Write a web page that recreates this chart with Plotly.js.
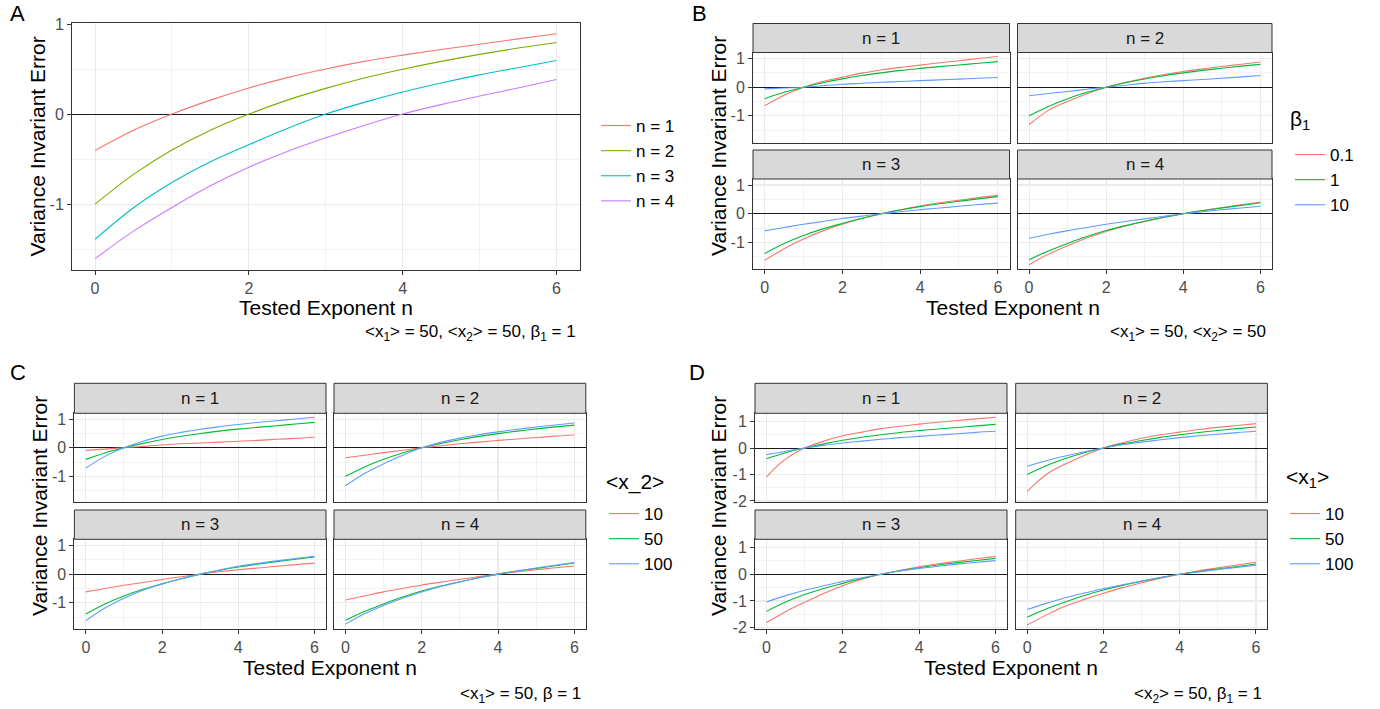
<!DOCTYPE html>
<html><head><meta charset="utf-8">
<script src="https://cdn.plot.ly/plotly-3.0.1.min.js"></script>
<style>html,body{margin:0;padding:0;background:#fff;} #chart{width:1380px;height:709px;}</style>
</head><body><div id="chart"></div>
<script>
// ---------- data ----------
const xs = [0, 0.5, 1, 1.5, 2, 2.5, 3, 3.5, 4, 4.5, 5, 5.5, 6];
const xsFine = [0, 0.25, 0.5, 0.75, 1, 1.5, 2, 2.5, 3, 3.5, 4, 4.5, 5, 5.5, 6];
const xTicks = [0, 2, 4, 6];
const yTicksABC = [-1, 0, 1];
const yTicksD = [-2, -1, 0, 1];
const facetLabels = ['n = 1', 'n = 2', 'n = 3', 'n = 4'];
const legendA = ['n = 1', 'n = 2', 'n = 3', 'n = 4'];
const legendB = ['0.1', '1', '10'];
const legendC = ['10', '50', '100'];
const legendD = ['10', '50', '100'];

// Panel A (<x1>=50, <x2>=50, beta1=1)
const A_n1 = [-0.405, -0.18, 0, 0.155, 0.29, 0.405, 0.50, 0.585, 0.655, 0.718, 0.776, 0.835, 0.892];
const A_n2 = [-1.0, -0.67, -0.40, -0.18, 0, 0.155, 0.285, 0.40, 0.498, 0.585, 0.663, 0.733, 0.795];
const A_n3 = [-1.39, -1.04, -0.76, -0.53, -0.34, -0.16, 0, 0.13, 0.245, 0.345, 0.435, 0.515, 0.595];
const A_n4 = [-1.606, -1.30, -1.037, -0.796, -0.59, -0.416, -0.264, -0.126, 0, 0.105, 0.2, 0.29, 0.383];

// Panel B (beta1 = 0.1, 1, 10)
const B_n1_01 = [-0.65, -0.28, 0, 0.2, 0.35, 0.49, 0.6, 0.69, 0.77, 0.85, 0.92, 1.0, 1.07];
const B_n1_1  = [-0.405, -0.18, 0, 0.155, 0.29, 0.405, 0.50, 0.585, 0.655, 0.718, 0.776, 0.835, 0.892];
const B_n1_10 = [-0.06, -0.03, 0, 0.05, 0.1, 0.135, 0.17, 0.2, 0.23, 0.255, 0.28, 0.31, 0.34];
const B_n2_01 = [-1.31, -0.81, -0.5, -0.23, 0, 0.17, 0.31, 0.44, 0.55, 0.64, 0.72, 0.8, 0.88];
const B_n2_1  = [-1.0, -0.67, -0.40, -0.18, 0, 0.155, 0.285, 0.40, 0.498, 0.585, 0.663, 0.733, 0.795];
const B_n2_10 = [-0.30, -0.22, -0.15, -0.07, 0, 0.07, 0.14, 0.19, 0.23, 0.27, 0.31, 0.36, 0.41];
const B_n3_01 = [-1.63, -1.22, -0.88, -0.6, -0.37, -0.17, 0, 0.14, 0.27, 0.38, 0.47, 0.56, 0.64];
const B_n3_1  = [-1.39, -1.04, -0.76, -0.53, -0.34, -0.16, 0, 0.13, 0.245, 0.345, 0.435, 0.515, 0.595];
const B_n3_10 = [-0.6, -0.48, -0.37, -0.27, -0.17, -0.085, 0, 0.07, 0.14, 0.2, 0.26, 0.32, 0.37];
const B_n4_01 = [-1.78, -1.42, -1.12, -0.85, -0.62, -0.43, -0.27, -0.13, 0, 0.11, 0.21, 0.31, 0.4];
const B_n4_1  = [-1.606, -1.30, -1.037, -0.796, -0.59, -0.416, -0.264, -0.126, 0, 0.105, 0.2, 0.29, 0.383];
const B_n4_10 = [-0.86, -0.72, -0.59, -0.48, -0.37, -0.27, -0.18, -0.09, 0, 0.07, 0.14, 0.2, 0.26];

// Panel C (<x_2> = 10, 50, 100)
const C_n1_10  = [-0.09, -0.045, 0, 0.05, 0.1, 0.14, 0.17, 0.2, 0.23, 0.26, 0.3, 0.33, 0.37];
const C_n1_50  = [-0.405, -0.18, 0, 0.155, 0.29, 0.405, 0.50, 0.585, 0.655, 0.718, 0.776, 0.835, 0.892];
const C_n1_100 = [-0.71, -0.30, 0, 0.23, 0.41, 0.54, 0.65, 0.74, 0.82, 0.89, 0.95, 1.01, 1.07];
const C_n2_10  = [-0.35, -0.26, -0.17, -0.085, 0, 0.07, 0.14, 0.2, 0.26, 0.31, 0.36, 0.41, 0.45];
const C_n2_50  = [-1.0, -0.67, -0.40, -0.18, 0, 0.155, 0.285, 0.40, 0.498, 0.585, 0.663, 0.733, 0.795];
const C_n2_100 = [-1.33, -0.9, -0.56, -0.26, 0, 0.19, 0.34, 0.46, 0.56, 0.65, 0.73, 0.8, 0.87];
const C_n3_10  = [-0.62, -0.5, -0.39, -0.29, -0.19, -0.09, 0, 0.08, 0.15, 0.21, 0.27, 0.33, 0.38];
const C_n3_50  = [-1.39, -1.04, -0.76, -0.53, -0.34, -0.16, 0, 0.13, 0.245, 0.345, 0.435, 0.515, 0.595];
const C_n3_100 = [-1.62, -1.18, -0.84, -0.56, -0.34, -0.16, 0, 0.14, 0.27, 0.37, 0.46, 0.54, 0.62];
const C_n4_10  = [-0.9, -0.76, -0.62, -0.5, -0.38, -0.28, -0.18, -0.09, 0, 0.08, 0.15, 0.22, 0.28];
const C_n4_50  = [-1.606, -1.30, -1.037, -0.796, -0.59, -0.416, -0.264, -0.126, 0, 0.105, 0.2, 0.29, 0.383];
const C_n4_100 = [-1.74, -1.38, -1.09, -0.84, -0.62, -0.43, -0.27, -0.13, 0, 0.11, 0.21, 0.31, 0.40];

// Panel D (<x1> = 10, 50, 100); the <x1>=10 series of n=1,2 use xsFine
const D_n1_10  = [-1.1, -0.72, -0.42, -0.19, 0, 0.26, 0.46, 0.6, 0.73, 0.82, 0.9, 0.97, 1.04, 1.1, 1.16];
const D_n1_50  = [-0.405, -0.18, 0, 0.155, 0.29, 0.405, 0.50, 0.585, 0.655, 0.718, 0.776, 0.835, 0.892];
const D_n1_100 = [-0.25, -0.12, 0, 0.1, 0.19, 0.26, 0.33, 0.39, 0.44, 0.49, 0.54, 0.59, 0.63];
const D_n2_10  = [-1.65, -1.3, -1.0, -0.78, -0.6, -0.28, 0, 0.2, 0.37, 0.5, 0.6, 0.7, 0.78, 0.85, 0.92];
const D_n2_50  = [-1.0, -0.67, -0.40, -0.18, 0, 0.155, 0.285, 0.40, 0.498, 0.585, 0.663, 0.733, 0.795];
const D_n2_100 = [-0.69, -0.48, -0.3, -0.14, 0, 0.12, 0.22, 0.31, 0.39, 0.46, 0.52, 0.58, 0.63];
const D_n3_10  = [-1.81, -1.4, -1.05, -0.72, -0.43, -0.19, 0, 0.15, 0.28, 0.39, 0.49, 0.58, 0.67];
const D_n3_50  = [-1.39, -1.04, -0.76, -0.53, -0.34, -0.16, 0, 0.13, 0.245, 0.345, 0.435, 0.515, 0.595];
const D_n3_100 = [-1.04, -0.8, -0.6, -0.43, -0.27, -0.13, 0, 0.12, 0.22, 0.3, 0.38, 0.45, 0.51];
const D_n4_10  = [-1.9, -1.53, -1.2, -0.94, -0.71, -0.5, -0.32, -0.15, 0, 0.13, 0.24, 0.35, 0.45];
const D_n4_50  = [-1.606, -1.30, -1.037, -0.796, -0.59, -0.416, -0.264, -0.126, 0, 0.105, 0.2, 0.29, 0.383];
const D_n4_100 = [-1.32, -1.09, -0.88, -0.7, -0.54, -0.39, -0.25, -0.12, 0, 0.09, 0.18, 0.26, 0.34];

// ---------- styling / layout ----------
const FONT = '"Liberation Sans", Arial, sans-serif';
const W = 1380, H = 709;
const colors4 = ['#F8766D', '#7CAE00', '#00BFC4', '#C77CFF'];
const colors3 = ['#F8766D', '#00BA38', '#619CFF'];
const px = v => v / W;
const py = v => 1 - v / H;

function xAxis(l, r, anchor, labels) {
  return {
    domain: [px(l), px(r)], anchor: anchor, range: [-0.3, 6.3],
    tickmode: 'array', tickvals: xTicks, ticktext: xTicks.map(String),
    showgrid: true, gridcolor: '#EBEBEB', gridwidth: 1.1,
    minor: {dtick: 1, tick0: 0, showgrid: true, gridcolor: '#EBEBEB', gridwidth: 0.6},
    zeroline: false, showline: true, mirror: true, linecolor: '#333333', linewidth: 1,
    ticks: labels ? 'outside' : '', ticklen: 4, tickcolor: '#333333', tickwidth: 1,
    showticklabels: labels, tickfont: {family: FONT, size: 16, color: '#4D4D4D'}, fixedrange: true
  };
}
function yAxis(top, bottom, anchor, range, ticks, labels) {
  return {
    domain: [py(bottom), py(top)], anchor: anchor, range: range,
    tickmode: 'array', tickvals: ticks, ticktext: ticks.map(String),
    showgrid: true, gridcolor: '#EBEBEB', gridwidth: 1.1,
    minor: {dtick: 0.5, tick0: 0, showgrid: true, gridcolor: '#EBEBEB', gridwidth: 0.6},
    zeroline: true, zerolinecolor: '#1A1A1A', zerolinewidth: 1,
    showline: true, mirror: true, linecolor: '#333333', linewidth: 1,
    ticks: labels ? 'outside' : '', ticklen: 4, tickcolor: '#333333', tickwidth: 1,
    showticklabels: labels, tickfont: {family: FONT, size: 16, color: '#4D4D4D'}, fixedrange: true
  };
}
function legendAt(x, y) {
  return {x: px(x), y: py(y), xanchor: 'left', yanchor: 'top', bgcolor: 'rgba(0,0,0,0)',
          tracegroupgap: 0, font: {family: FONT, size: 17, color: '#000000'}, itemwidth: 30};
}

const layout = {
  width: W, height: H, margin: {l: 0, r: 0, t: 0, b: 0},
  paper_bgcolor: '#FFFFFF', plot_bgcolor: '#FFFFFF',
  font: {family: FONT, color: '#000000'},
  shapes: [], annotations: [],
  legend: legendAt(596, 108),
  legend2: legendAt(1290, 137),
  legend3: legendAt(604, 496),
  legend4: legendAt(1285, 496)
};
const data = [];

function ann(text, x, y, opts) {
  layout.annotations.push(Object.assign({
    text: text, x: px(x), y: py(y), xref: 'paper', yref: 'paper', showarrow: false,
    xanchor: 'center', yanchor: 'middle', font: {family: FONT, size: 21, color: '#000000'}
  }, opts || {}));
}

// Panel A
layout.xaxis = xAxis(72, 579.5, 'y', true);
layout.yaxis = yAxis(23.4, 270, 'x', [-1.732, 1.007], yTicksABC, true);
[A_n1, A_n2, A_n3, A_n4].forEach((ys, i) => {
  data.push({type: 'scatter', mode: 'lines', x: xs, y: ys, xaxis: 'x', yaxis: 'y',
    name: legendA[i], legend: 'legend', line: {color: colors4[i], width: 1.1, shape: 'spline', smoothing: 1},
    hoverinfo: 'skip'});
});
ann('A', 17, 14, {font: {family: FONT, size: 22, color: '#000000'}});
ann('Variance Invariant Error', 37, 146.5, {textangle: -90});
ann('Tested Exponent n', 325.7, 307.5);
ann('&lt;x<sub>1</sub>&gt; = 50, &lt;x<sub>2</sub>&gt; = 50, β<sub>1</sub> = 1', 578, 333,
    {xanchor: 'right', font: {family: FONT, size: 17, color: '#000000'}});

// Faceted panels
const facetPanels = [
  {label: 'B', labelPos: [699, 14], axStart: 2, cols: [[753, 1009.5], [1017.5, 1272]],
   rows: [{strip: [23.5, 52.5], plot: [52.5, 142.5]}, {strip: [150, 179], plot: [179, 269]}],
   yr: [-1.93, 1.21], yt: yTicksABC, legend: 'legend2', names: legendB,
   legendTitle: ['β<sub>1</sub>', 1288, 120],
   series: [[B_n1_01, B_n1_1, B_n1_10], [B_n2_01, B_n2_1, B_n2_10], [B_n3_01, B_n3_1, B_n3_10], [B_n4_01, B_n4_1, B_n4_10]],
   xsets: [[xs, xs, xs], [xs, xs, xs], [xs, xs, xs], [xs, xs, xs]],
   ytitle: [718, 146], xtitle: [1012.5, 307.5],
   caption: ['&lt;x<sub>1</sub>&gt; = 50, &lt;x<sub>2</sub>&gt; = 50', 1268, 333]},
  {label: 'C', labelPos: [18, 373], axStart: 6, cols: [[74.4, 326], [334, 585.8]],
   rows: [{strip: [383.3, 413.3], plot: [413.3, 502.3]}, {strip: [510, 539.3], plot: [539.3, 629]}],
   yr: [-1.91, 1.21], yt: yTicksABC, legend: 'legend3', names: legendC,
   legendTitle: ['&lt;x_2&gt;', 604, 482],
   series: [[C_n1_10, C_n1_50, C_n1_100], [C_n2_10, C_n2_50, C_n2_100], [C_n3_10, C_n3_50, C_n3_100], [C_n4_10, C_n4_50, C_n4_100]],
   xsets: [[xs, xs, xs], [xs, xs, xs], [xs, xs, xs], [xs, xs, xs]],
   ytitle: [39, 506], xtitle: [330, 667.5],
   caption: ['&lt;x<sub>1</sub>&gt; = 50, β = 1', 583, 695]},
  {label: 'D', labelPos: [697, 373], axStart: 10, cols: [[755, 1007], [1015.7, 1267.4]],
   rows: [{strip: [383.3, 413.3], plot: [413.3, 502.3]}, {strip: [510, 539.3], plot: [539.3, 629]}],
   yr: [-2.05, 1.31], yt: yTicksD, legend: 'legend4', names: legendD,
   legendTitle: ['&lt;x<sub>1</sub>&gt;', 1284, 478],
   series: [[D_n1_10, D_n1_50, D_n1_100], [D_n2_10, D_n2_50, D_n2_100], [D_n3_10, D_n3_50, D_n3_100], [D_n4_10, D_n4_50, D_n4_100]],
   xsets: [[xsFine, xs, xs], [xsFine, xs, xs], [xs, xs, xs], [xs, xs, xs]],
   ytitle: [718, 506], xtitle: [1011, 667.5],
   caption: ['&lt;x<sub>2</sub>&gt; = 50, β<sub>1</sub> = 1', 1264, 695]}
];

facetPanels.forEach(p => {
  for (let f = 0; f < 4; f++) {
    const r = Math.floor(f / 2), c = f % 2;
    const k = p.axStart + f;
    const xk = 'x' + k, yk = 'y' + k;
    const col = p.cols[c], row = p.rows[r];
    layout['xaxis' + k] = xAxis(col[0], col[1], yk, r === 1);
    layout['yaxis' + k] = yAxis(row.plot[0], row.plot[1], xk, p.yr, p.yt, c === 0);
    layout.shapes.push({type: 'rect', xref: 'paper', yref: 'paper',
      x0: px(col[0]), x1: px(col[1]), y0: py(row.strip[1]), y1: py(row.strip[0]),
      fillcolor: '#D9D9D9', line: {color: '#333333', width: 1}, layer: 'above'});
    ann(facetLabels[f], (col[0] + col[1]) / 2, (row.strip[0] + row.strip[1]) / 2,
        {font: {family: FONT, size: 17, color: '#1A1A1A'}});
    p.series[f].forEach((ys, i) => {
      data.push({type: 'scatter', mode: 'lines', x: p.xsets[f][i], y: ys, xaxis: xk, yaxis: yk,
        name: p.names[i], legend: p.legend, showlegend: f === 0,
        line: {color: colors3[i], width: 1.1, shape: 'spline', smoothing: 1}, hoverinfo: 'skip'});
    });
  }
  ann(p.label, p.labelPos[0], p.labelPos[1], {font: {family: FONT, size: 22, color: '#000000'}});
  ann(p.legendTitle[0], p.legendTitle[1], p.legendTitle[2], {xanchor: 'left'});
  ann('Variance Invariant Error', p.ytitle[0], p.ytitle[1], {textangle: -90});
  ann('Tested Exponent n', p.xtitle[0], p.xtitle[1]);
  ann(p.caption[0], p.caption[1], p.caption[2], {xanchor: 'right', font: {family: FONT, size: 17, color: '#000000'}});
});

Plotly.newPlot('chart', data, layout, {staticPlot: true, displayModeBar: false});
</script></body></html>
